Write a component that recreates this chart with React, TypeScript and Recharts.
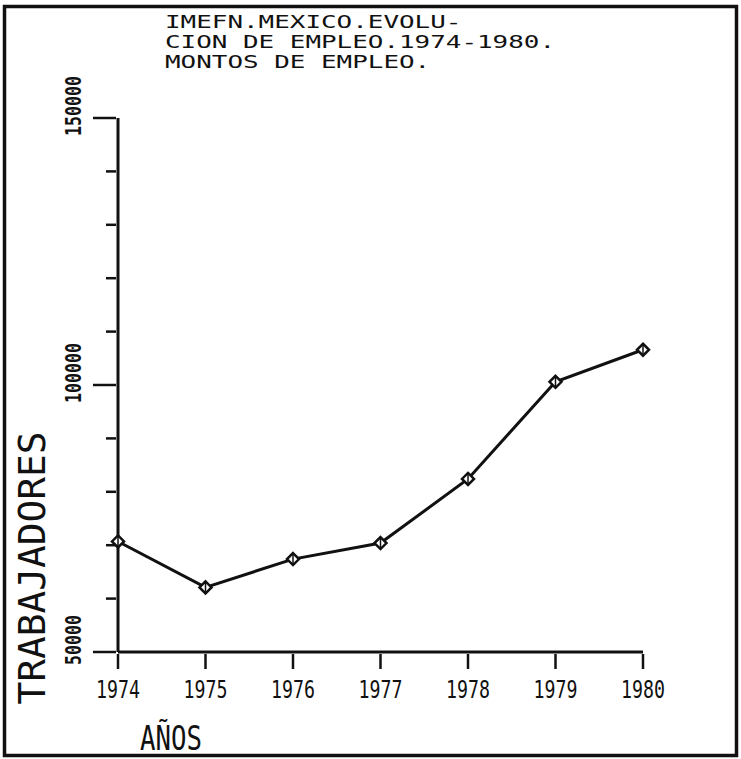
import React from "react";
import { LineChart, Line, XAxis, YAxis } from "recharts";

const years = [1974, 1975, 1976, 1977, 1978, 1979, 1980];
const workers = [70700, 62100, 67400, 70400, 82400, 100600, 106600];
const yTicks = [50000, 60000, 70000, 80000, 90000, 100000, 110000, 120000, 130000, 140000, 150000];
const yLabeled = [50000, 100000, 150000];
const titleLines = ["IMEFN.MEXICO.EVOLU-", "CION DE EMPLEO.1974-1980.", "MONTOS DE EMPLEO."];
const yAxisTitle = "TRABAJADORES";
const xAxisTitle = "AÑOS";

const data = years.map((y, i) => ({ year: y, value: workers[i] }));

const FONT = "'DejaVu Sans Mono', monospace";

const XTick = (props: any) => {
  const { x, y, payload } = props;
  const label = String(payload.value);
  return (
    <g>
      <line x1={x} y1={y} x2={x} y2={y + 15} stroke="#111" strokeWidth={2.5} />
      <text
        x={x}
        y={y + 44}
        textAnchor="middle"
        fontFamily={FONT}
        fontSize={25}
        fill="#111"
        textLength={label.length * 11}
        lengthAdjust="spacingAndGlyphs"
      >
        {label}
      </text>
    </g>
  );
};

const YTick = (props: any) => {
  const { x, y, payload } = props;
  const major = yLabeled.includes(payload.value);
  const label = String(payload.value);
  return (
    <g>
      <line x1={x - (major ? 23 : 10)} y1={y} x2={x} y2={y} stroke="#111" strokeWidth={2.5} />
      {major && (
        <text
          transform={`translate(${x - 35}, ${y - 12}) rotate(-90)`}
          textAnchor="middle"
          fontFamily={FONT}
          fontWeight="bold"
          fontSize={22}
          fill="#111"
          textLength={label.length * 10}
          lengthAdjust="spacingAndGlyphs"
        >
          {label}
        </text>
      )}
    </g>
  );
};

const Marker = (props: any) => {
  const { cx, cy } = props;
  if (cx == null || cy == null) return null;
  const r = 6;
  return (
    <g>
      <polygon
        points={`${cx},${cy - r} ${cx + r},${cy} ${cx},${cy + r} ${cx - r},${cy}`}
        fill="#fff"
        stroke="#111"
        strokeWidth={2.5}
      />
      <line x1={cx} y1={cy - r} x2={cx} y2={cy + r} stroke="#111" strokeWidth={1.5} />
    </g>
  );
};

export default function App() {
  return (
    <div style={{ position: "absolute", left: 0, top: 0, width: 741, height: 759, background: "#fff", overflow: "hidden" }}>
      <LineChart
        width={741}
        height={759}
        data={data}
        margin={{ top: 118, right: 98, bottom: 67, left: 58 }}
      >
        <XAxis
          dataKey="year"
          type="number"
          domain={[1974, 1980]}
          ticks={years}
          interval={0}
          height={40}
          tickSize={0}
          tickLine={false}
          axisLine={{ stroke: "#111", strokeWidth: 3 }}
          tick={<XTick />}
        />
        <YAxis
          type="number"
          domain={[50000, 150000]}
          ticks={yTicks}
          interval={0}
          width={60}
          tickSize={0}
          tickLine={false}
          axisLine={{ stroke: "#111", strokeWidth: 3 }}
          tick={<YTick />}
        />
        <Line
          type="linear"
          dataKey="value"
          stroke="#111"
          strokeWidth={3}
          dot={<Marker />}
          activeDot={false}
          isAnimationActive={false}
        />
      </LineChart>
      <svg
        width={741}
        height={759}
        style={{ position: "absolute", left: 0, top: 0, pointerEvents: "none" }}
      >
        {titleLines.map((t, i) => (
          <text
            key={i}
            x={165}
            y={28 + i * 20}
            fontFamily={FONT}
            fontSize={17}
            fill="#111"
            textLength={t.length * 15.6}
            lengthAdjust="spacingAndGlyphs"
          >
            {t}
          </text>
        ))}
        <text
          transform="translate(45, 568) rotate(-90)"
          textAnchor="middle"
          fontFamily={FONT}
          fontSize={37}
          fill="#111"
          textLength={273}
          lengthAdjust="spacingAndGlyphs"
        >
          {yAxisTitle}
        </text>
        <text
          x={140}
          y={750}
          fontFamily={FONT}
          fontSize={34}
          fill="#111"
          textLength={62}
          lengthAdjust="spacingAndGlyphs"
        >
          {xAxisTitle}
        </text>
        <rect x={4.5} y={6.5} width={732} height={749} fill="none" stroke="#111" strokeWidth={3.5} />
      </svg>
    </div>
  );
}
